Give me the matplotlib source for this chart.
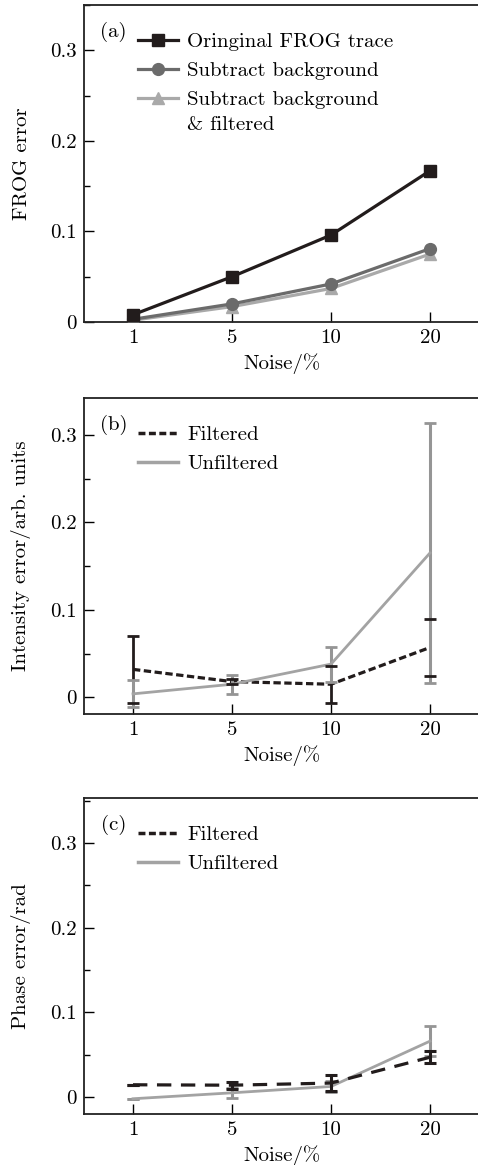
import numpy as np
import matplotlib
matplotlib.use('Agg')
import matplotlib.pyplot as plt
from matplotlib.ticker import MultipleLocator
from matplotlib.lines import Line2D

plt.rcParams['font.family'] = ['cmr10', 'DejaVu Serif']
plt.rcParams['font.size'] = 15
plt.rcParams['axes.unicode_minus'] = False
plt.rcParams['axes.formatter.use_mathtext'] = True

noise_labels = ['1', '5', '10', '20']

# (a) FROG error
frog_orig = [0.008, 0.050, 0.096, 0.167]
frog_orig_err = [0.002, 0.002, 0.002, 0.005]
frog_sub = [0.003, 0.020, 0.042, 0.081]
frog_sub_err = [0.002, 0.002, 0.003, 0.004]
frog_filt = [0.002, 0.017, 0.037, 0.075]
frog_filt_err = [0.002, 0.002, 0.003, 0.004]

# (b) intensity error
int_filt = [0.032, 0.018, 0.015, 0.057]
int_filt_err = [0.038, 0.003, 0.021, 0.033]
int_unfilt = [0.004, 0.015, 0.038, 0.165]
int_unfilt_err = [0.0155, 0.011, 0.020, 0.149]

# (c) phase error
ph_filt = [0.0145, 0.014, 0.0165, 0.047]
ph_filt_err = [0.0, 0.004, 0.009, 0.007]
ph_unfilt = [-0.002, 0.005, 0.0125, 0.066]
ph_unfilt_err = [0.0, 0.006, 0.006, 0.018]

x = np.arange(len(noise_labels))

fig = plt.figure(figsize=(4.78, 11.65), dpi=100)
ax1 = fig.add_axes([84/478, 1-322/1165, 396/478, 317/1165])
ax2 = fig.add_axes([84/478, 1-714/1165, 396/478, 316/1165])
ax3 = fig.add_axes([84/478, 1-1114/1165, 396/478, 316/1165])

dark = '#221c1c'
mid = '#6b6b6b'
light = '#a9a9a9'
ugray = '#a3a3a3'

leg_kw = dict(loc='upper left', bbox_to_anchor=(0.137, 0.912), frameon=False,
              borderpad=0, handlelength=1.9, handletextpad=0.45,
              labelspacing=0.5, borderaxespad=0)


def style_axis(ax, ylim, ylabel, tag):
    ax.set_xlim(-0.495, 3.505)
    ax.set_ylim(*ylim)
    ax.set_xticks(x)
    ax.set_xticklabels(noise_labels)
    ax.set_yticks([0, 0.1, 0.2, 0.3])
    ax.set_yticklabels(['0', '0.1', '0.2', '0.3'])
    ax.yaxis.set_minor_locator(MultipleLocator(0.05))
    ax.tick_params(which='major', direction='in', length=7, width=1, pad=5)
    ax.tick_params(which='minor', direction='in', length=4, width=1)
    ax.tick_params(axis='x', which='minor', bottom=False)
    for s in ax.spines.values():
        s.set_linewidth(1.3)
        s.set_color('#222222')
    ax.set_xlabel('Noise/%', labelpad=4.5)
    ax.set_ylabel(ylabel)
    ax.yaxis.set_label_coords(-0.135, 0.5)
    ax.text(0.074, 0.915, tag, transform=ax.transAxes, ha='center', va='center')


# (a)
ax1.errorbar(x, frog_filt, yerr=frog_filt_err, color=light, lw=2.3, marker='^',
             ms=8.5, capsize=3, zorder=2)
ax1.errorbar(x, frog_sub, yerr=frog_sub_err, color=mid, lw=2.3, marker='o',
             ms=8.5, mfc=mid, capsize=3, zorder=3)
ax1.errorbar(x, frog_orig, yerr=frog_orig_err, color=dark, lw=2.3, marker='s',
             ms=8, capsize=3, zorder=4)
h_a = [Line2D([], [], color=dark, lw=2.3, marker='s', ms=8),
       Line2D([], [], color=mid, lw=2.3, marker='o', ms=8.5),
       Line2D([], [], color=light, lw=2.3, marker='^', ms=8.5)]
ax1.legend(h_a, ['Oringinal FROG trace', 'Subtract background',
                 'Subtract background'], **leg_kw)
ax1.text(0.259, 0.62, '& filtered', transform=ax1.transAxes, ha='left', va='center')
style_axis(ax1, (0, 0.35), 'FROG error', '(a)')

# (b)
e = ax2.errorbar(x, int_filt, yerr=int_filt_err, color=dark, lw=2.3, ls='--',
                 dashes=(2.3, 1.1), elinewidth=2, capsize=4, capthick=2, zorder=2)
for c in e[1]:
    c.set_zorder(5)
ax2.errorbar(x, int_unfilt, yerr=int_unfilt_err, color=ugray, lw=2.0,
             ecolor='#959595', elinewidth=2.2, capsize=4, capthick=2, zorder=3)
h_b = [Line2D([], [], color=dark, lw=2.5, ls='--', dashes=(2.0, 1.0)),
       Line2D([], [], color=ugray, lw=2.5)]
ax2.legend(h_b, ['Filtered', 'Unfiltered'], **leg_kw)
style_axis(ax2, (-0.019, 0.342), 'Intensity error/arb. units', '(b)')

# (c)
ax3.errorbar(x, ph_filt, yerr=ph_filt_err, color=dark, lw=2.3, ls='--',
             dashes=(4.5, 3.0), elinewidth=2.2, capsize=4.5, capthick=2.2, zorder=3)
ax3.errorbar(x, ph_unfilt, yerr=ph_unfilt_err, color=ugray, lw=2.0,
             ecolor='#959595', elinewidth=2.2, capsize=4, capthick=2, zorder=2)
ax3.legend(h_b, ['Filtered', 'Unfiltered'], **leg_kw)
style_axis(ax3, (-0.02, 0.353), 'Phase error/rad', '(c)')

fig.savefig('out.png', dpi=100)
